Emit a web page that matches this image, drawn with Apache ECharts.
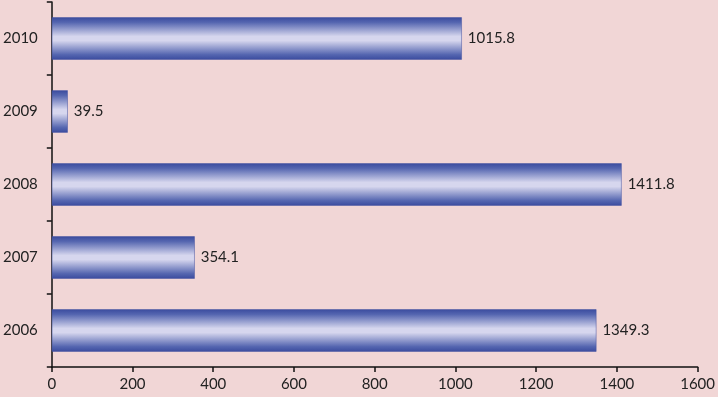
<!DOCTYPE html>
<html><head><meta charset="utf-8">
<script src="https://cdn.jsdelivr.net/npm/echarts@6/dist/echarts.min.js"></script>
<style>html,body{margin:0;padding:0;background:#f1d6d6}#c{width:718px;height:397px}</style>
</head><body><div id="c"></div>
<script>
const categories = ['2006','2007','2008','2009','2010'];
const values = [1349.3, 354.1, 1411.8, 39.5, 1015.8];
const xTicks = [0,200,400,600,800,1000,1200,1400,1600];

const chart = echarts.init(document.getElementById('c'));
const font = 'Lato, "Open Sans", sans-serif';
chart.setOption({
  backgroundColor: '#f1d6d6',
  animation: false,
  grid: {left: 50, right: 14, top: 2, bottom: 30, containLabel: false},
  xAxis: {
    type: 'value', min: xTicks[0], max: xTicks[xTicks.length-1], interval: 200,
    axisLine: {show: true, lineStyle: {color: '#111', width: 1.5}},
    axisTick: {show: true, length: 5, lineStyle: {color: '#111', width: 1.5}},
    splitLine: {show: false},
    axisLabel: {color: '#222', fontSize: 15, fontFamily: font, margin: 10, formatter: v => String(v)}
  },
  yAxis: {
    type: 'category', data: categories,
    axisLine: {show: true, lineStyle: {color: '#111', width: 1.5}},
    axisTick: {show: true, length: 5, lineStyle: {color: '#111', width: 1.5}},
    axisLabel: {color: '#222', fontSize: 15, fontFamily: font, margin: 14}
  },
  series: [{
    type: 'bar', data: values, barWidth: '58%',
    itemStyle: {
      color: new echarts.graphic.LinearGradient(0,0,0,1,[
        {offset:0, color:'#3a4b9e'},
        {offset:0.12, color:'#5566b0'},
        {offset:0.45, color:'#d6d6ee'},
        {offset:0.55, color:'#d6d6ee'},
        {offset:0.88, color:'#5566b0'},
        {offset:1, color:'#3a4b9e'}
      ]),
      borderColor: '#4050a0', borderWidth: 0.5
    },
    label: {show: true, position: 'right', distance: 6, color: '#222', fontSize: 15, fontFamily: font,
      formatter: p => p.value.toFixed(1)}
  }]
});
</script></body></html>
